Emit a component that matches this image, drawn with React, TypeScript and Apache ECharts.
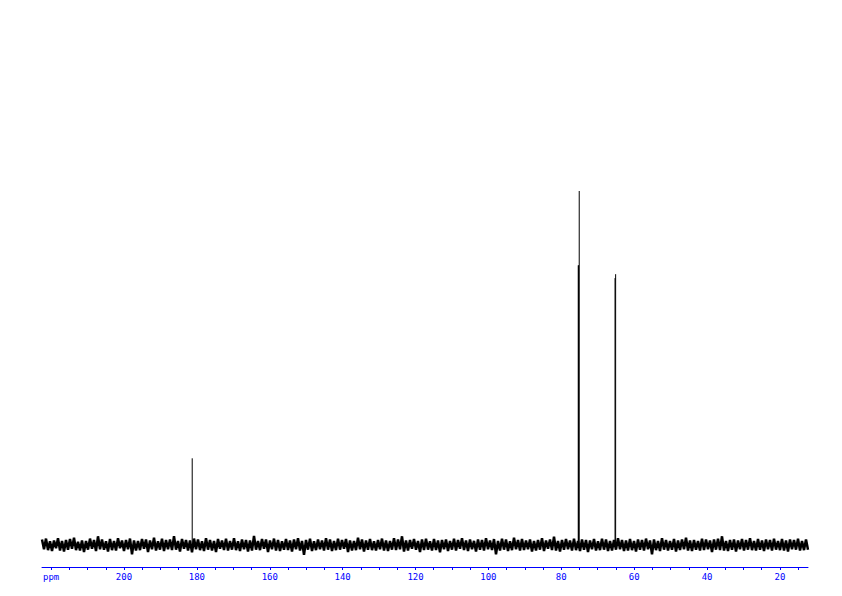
import React, { useEffect, useRef } from "react";
import * as echarts from "echarts";

// x-axis (ppm) extent of the recorded spectrum
const PPM_START = 222.5;
const PPM_END = 12.3;

// baseline noise (arbitrary units, scaled below), read left (high ppm) to right (low ppm)
const NOISE = [
  12,-9,14,-11,8,-13,10,-7,15,-12,9,-14,11,-10,13,-8,16,-11,7,-12,10,-15,9,-10,
  14,-8,11,-13,19,-9,12,-10,8,-14,13,-11,9,-12,15,-7,10,-13,11,-9,14,-20,10,-12,
  9,-11,13,-8,12,-15,10,-9,16,-12,8,-10,14,-13,11,-9,12,-11,19,-10,9,-14,13,-8,
  11,-12,10,-16,14,-9,12,-11,8,-13,15,-10,11,-12,9,-15,13,-8,10,-11,14,-12,9,-10,
  15,-11,8,-13,12,-9,11,-14,10,-12,20,-10,9,-11,13,-8,12,-15,10,-9,14,-12,11,-13,
  8,-10,13,-11,10,-14,12,-9,15,-12,9,-21,11,-10,14,-13,8,-11,12,-9,10,-12,15,-10,
  12,-13,9,-11,14,-10,11,-8,13,-15,10,-12,9,-11,16,-9,12,-14,10,-10,13,-11,8,-12,
  11,-9,14,-12,10,-13,9,-10,15,-11,12,-9,19,-14,10,-12,11,-8,13,-10,9,-15,12,-11,
  14,-10,8,-12,13,-11,10,-16,11,-9,12,-13,9,-10,14,-12,11,-8,15,-11,10,-13,12,-9,
  9,-14,12,-10,11,-12,15,-9,10,-11,13,-20,9,-12,14,-10,12,-13,8,-11,16,-9,11,-12,
  13,-11,10,-9,12,-14,9,-12,11,-10,15,-13,10,-8,12,-11,18,-12,9,-14,11,-10,13,-9,
  10,-12,14,-11,9,-13,12,-10,11,-15,10,-9,13,-12,8,-11,14,-10,12,-13,9,-12,11,-10,
  15,-9,11,-13,10,-12,13,-11,9,-14,12,-10,11,-12,14,-9,10,-20,12,-11,9,-13,15,-10,
  11,-12,9,-10,13,-14,10,-11,12,-9,16,-12,10,-13,11,-10,9,-12,14,-11,12,-9,10,-15,
  12,-10,14,-11,19,-12,9,-13,11,-10,12,-14,10,-9,13,-12,11,-10,15,-11,9,-12,13,-10,
  10,-13,12,-9,11,-12,14,-10,9,-11,13,-12,10,-14,12,-9,11,-10,14,-12,9,-11,12,-10,
];
const NOISE_SCALE = 0.13;

// resolved peak lines
const PEAK_PPM = [181.28, 75.35, 75.26, 75.08, 65.25, 65.09];
const PEAK_HEIGHT = [24.5, 79, 79, 100, 75.4, 76.5];

// axis ticks and labels
const TICK_VALUES = [
  15, 20, 25, 30, 35, 40, 45, 50, 55, 60, 65, 70, 75, 80, 85, 90, 95, 100, 105, 110,
  115, 120, 125, 130, 135, 140, 145, 150, 155, 160, 165, 170, 175, 180, 185, 190, 195,
  200, 205, 210, 215, 220,
];
const LABEL_VALUES = [20, 40, 60, 80, 100, 120, 140, 160, 180, 200, 220];
const UNIT_LABEL = "ppm";

export default function App() {
  const ref = useRef<HTMLDivElement>(null);

  useEffect(() => {
    document.body.style.margin = "0";
    if (!ref.current) return;
    const chart = echarts.init(ref.current, undefined, { renderer: "svg" });
    const step = (PPM_START - PPM_END) / (NOISE.length - 1);
    const noiseData = NOISE.map((v, i) => [PPM_START - i * step, v * NOISE_SCALE]);

    const peakSeries = PEAK_PPM.map((p, i) => ({
      type: "line",
      data: [
        [p, 0],
        [p, PEAK_HEIGHT[i]],
      ],
      symbol: "none",
      silent: true,
      lineStyle: { color: "#000", width: 1 },
      z: 3,
    }));

    chart.setOption({
      animation: false,
      backgroundColor: "#fff",
      grid: { left: 42, right: 34, top: 191, bottom: 29 },
      xAxis: {
        type: "value",
        inverse: true,
        min: PPM_END,
        max: PPM_START,
        axisLine: { show: true, onZero: false, lineStyle: { color: "#0000ff", width: 1 } },
        axisTick: {
          show: true,
          inside: false,
          length: 3,
          customValues: TICK_VALUES,
          lineStyle: { color: "#0000ff" },
        },
        axisLabel: {
          show: true,
          customValues: LABEL_VALUES,
          margin: 5,
          color: "#0000ff",
          fontFamily: "DejaVu Sans Mono",
          fontSize: 9,
          formatter: (v: number) => (v === 220 ? UNIT_LABEL : String(v)),
        },
        splitLine: { show: false },
      },
      yAxis: {
        type: "value",
        min: -6.2,
        max: 100,
        show: false,
        splitLine: { show: false },
      },
      series: [
        {
          type: "line",
          data: noiseData,
          symbol: "none",
          silent: true,
          lineStyle: { color: "#000", width: 2.5, join: "miter" },
          z: 2,
        },
        ...peakSeries,
      ],
    });
    return () => chart.dispose();
  }, []);

  return <div ref={ref} style={{ width: 842, height: 596 }} />;
}
